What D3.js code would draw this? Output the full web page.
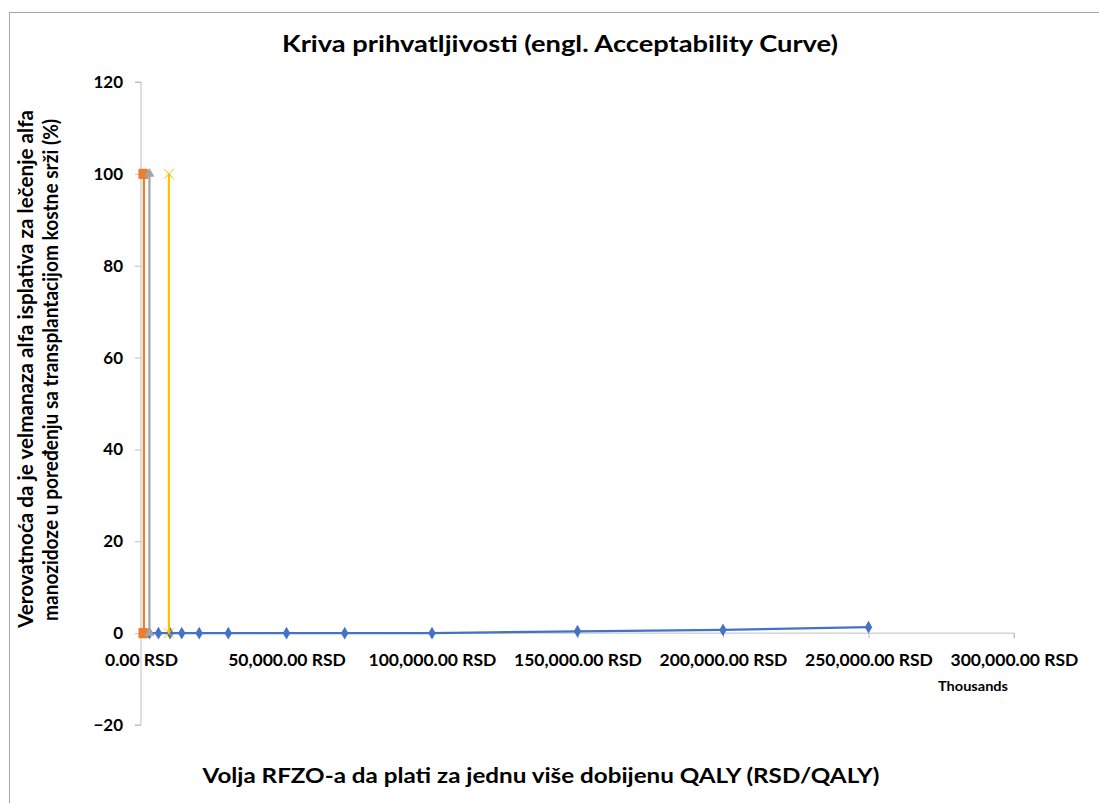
<!DOCTYPE html>
<html><head><meta charset="utf-8">
<script src="https://cdn.jsdelivr.net/npm/d3@7"></script>
<style>
html,body{margin:0;padding:0;background:#fff;}
svg{display:block;}
text{font-family:Lato,"Open Sans",sans-serif;font-weight:bold;fill:#000;}
</style></head>
<body>
<svg id="chart" width="1099" height="803"></svg>
<script>
// ---- data (x in thousands of RSD, y in %) ----
const titleText = "Kriva prihvatljivosti (engl. Acceptability Curve)";
const xTitle = "Volja RFZO-a da plati za jednu više dobijenu QALY (RSD/QALY)";
const yTitle1 = "Verovatnoća da je velmanaza alfa isplativa za lečenje alfa";
const yTitle2 = "manozidoze u poređenju sa transplantacijom kostne srži (%)";
const unitLabel = "Thousands";
const xTicks = [0, 50000, 100000, 150000, 200000, 250000, 300000];
const yTicks = [-20, 0, 20, 40, 60, 80, 100, 120];

const blueX = [2900, 6000, 10000, 14000, 20000, 30000, 50000, 70000, 100000, 150000, 200000, 250000];
const blueY = [0, 0, 0, 0, 0, 0, 0, 0, 0, 0.4, 0.7, 1.3];
const orangeX = [500, 1000, 1000, 500];
const orangeY = [100, 100, 0, 0];
const grayX = [2900, 2900];
const grayY = [100, 0];
const yellowX = [9600, 9600];
const yellowY = [100, 0];

const svg = d3.select("#chart");
const x = d3.scaleLinear().domain([0, 300000]).range([141, 1014]);
const y = d3.scaleLinear().domain([-20, 120]).range([725, 82]);

// border
svg.append("rect").attr("x", 9.5).attr("y", 12.5).attr("width", 1200).attr("height", 900)
  .attr("fill", "none").attr("stroke", "#A6A6A6").attr("stroke-width", 1);

function fitLen(sel, w) {
  sel.attr("textLength", w).attr("lengthAdjust", "spacingAndGlyphs");
}

// title
svg.append("text").attr("x", 560).attr("y", 52).attr("text-anchor", "middle")
  .attr("font-size", 22).text(titleText).call(fitLen, 556);

// y axis
const yAxis = svg.append("g").attr("transform", `translate(${x(0)},0)`)
  .call(d3.axisLeft(y).tickValues(yTicks).tickSize(6).tickPadding(12).tickFormat(d3.format("d")));
yAxis.selectAll("text").attr("font-size", 17).attr("font-family", "Lato").attr("font-weight", "bold").attr("fill", "#000");
yAxis.selectAll("line").attr("stroke", "#BFBFBF");
yAxis.select(".domain").attr("stroke", "#BFBFBF").attr("d", `M-6,${y(120)}H0V${y(-20)}H-6`);

// x axis
const xAxis = svg.append("g").attr("transform", `translate(0,${y(0)})`)
  .call(d3.axisBottom(x).tickValues(xTicks).tickSize(5).tickPadding(15)
    .tickFormat(d => d3.format(",.2f")(d) + " RSD"));
xAxis.selectAll("text").attr("font-size", 17.5).attr("font-family", "Lato").attr("font-weight", "bold").attr("fill", "#000");
xAxis.selectAll("line").attr("stroke", "#BFBFBF");
xAxis.select(".domain").attr("stroke", "#BFBFBF").attr("d", `M${x(0)},0H${x(300000)}V5`);

svg.append("text").attr("x", 973).attr("y", 691).attr("text-anchor", "middle")
  .attr("font-size", 12.5).text(unitLabel).call(fitLen, 70);

// axis titles
svg.append("text").attr("x", 541).attr("y", 783).attr("text-anchor", "middle")
  .attr("font-size", 20).text(xTitle).call(fitLen, 677);
svg.append("text").attr("transform", "translate(33,369) rotate(-90)").attr("text-anchor", "middle")
  .attr("font-size", 20).text(yTitle1).call(fitLen, 518);
svg.append("text").attr("transform", "translate(58,370) rotate(-90)").attr("text-anchor", "middle")
  .attr("font-size", 20).text(yTitle2).call(fitLen, 502);

const line = d3.line().x(d => x(d[0])).y(d => y(d[1]));
const zip = (a, b) => a.map((v, i) => [v, b[i]]);

// blue series
const blue = zip(blueX, blueY);
svg.append("path").datum(blue).attr("d", line).attr("fill", "none")
  .attr("stroke", "#4472C4").attr("stroke-width", 2.25).attr("stroke-linejoin", "round");
svg.selectAll(".bd").data(blue).join("path").attr("class", "bd")
  .attr("d", d3.symbol(d3.symbolDiamond, 48)())
  .attr("transform", d => `translate(${x(d[0])},${y(d[1])})`).attr("fill", "#4472C4");

// orange series
const orange = zip(orangeX, orangeY);
svg.append("path").datum(orange).attr("d", line).attr("fill", "none")
  .attr("stroke", "#ED7D31").attr("stroke-width", 2.25);
svg.selectAll(".os").data(orange).join("rect").attr("class", "os")
  .attr("x", d => x(d[0]) - 4).attr("y", d => y(d[1]) - 5).attr("width", 8).attr("height", 10)
  .attr("fill", "#ED7D31");

// gray series
const gray = zip(grayX, grayY);
svg.append("path").datum(gray).attr("d", line).attr("fill", "none")
  .attr("stroke", "#A5A5A5").attr("stroke-width", 2.25);
svg.selectAll(".gt").data(gray).join("path").attr("class", "gt")
  .attr("d", d3.symbol(d3.symbolTriangle, 45)())
  .attr("transform", d => `translate(${x(d[0])},${y(d[1])})`).attr("fill", "#A5A5A5");

// yellow series
const yellow = zip(yellowX, yellowY);
svg.append("path").datum(yellow).attr("d", line).attr("fill", "none")
  .attr("stroke", "#FFC000").attr("stroke-width", 2.25);
svg.selectAll(".yx").data(yellow).join("path").attr("class", "yx")
  .attr("d", "M-5,-5L5,5M-5,5L5,-5")
  .attr("transform", d => `translate(${x(d[0])},${y(d[1])})`)
  .attr("stroke", "#FFC000").attr("stroke-width", 1).attr("fill", "none");
</script>
</body></html>
